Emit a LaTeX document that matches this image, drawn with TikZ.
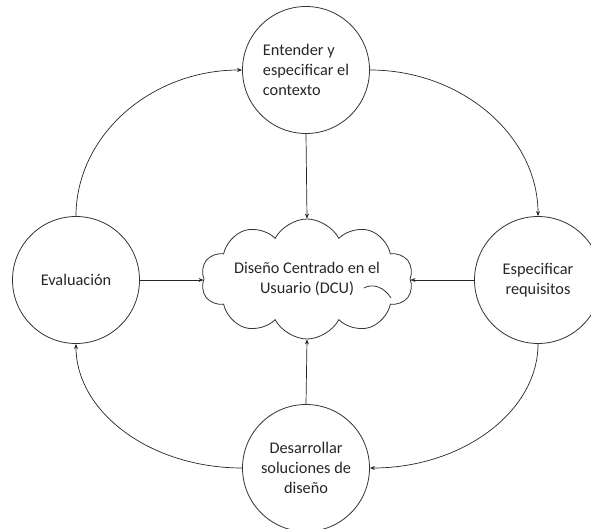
\documentclass[tikz,border=0pt]{standalone}
\usepackage{fontspec}
\setmainfont{Carlito}
\usetikzlibrary{shapes.symbols,arrows.meta}
\begin{document}
\begin{tikzpicture}[x=1pt,y=-1pt,
  every node/.style={font=\fontsize{16.3}{20}\selectfont, text=black!85},
  stage/.style={circle, draw=black!80, line width=0.8pt, minimum size=127pt,
    inner sep=0pt, align=center, fill=white},
  core/.style={cloud, draw=black!80, line width=0.8pt, cloud puffs=10,
    cloud puff arc=125, cloud ignores aspect, minimum width=212pt,
    minimum height=120pt, inner sep=0pt, align=center},
  link/.style={draw=black!85, line width=0.7pt,
    -{Stealth[length=5pt,width=4pt]}}]
\useasboundingbox (0,0) rectangle (591,529);
\clip (0,0) rectangle (591,529);

\node[core]  (dcu)    at (307,279) {Diseño Centrado en el\\Usuario (DCU)};
% inner fold line of the cloud
\draw[draw=black!80, line width=0.8pt] (364,288) .. controls (373,283) and (384,287) .. (391,298);

\node[stage, align=left] (ctx) at (306,70) {Entender y\\especificar el\\contexto};
\node[stage] (req)    at (538,280) {Especificar\\requisitos};
\node[stage] (sol)    at (306,468) {Desarrollar\\soluciones de\\diseño};
\node[stage] (eval)   at (76,280)  {Evaluación};

% spokes into the cloud
\draw[link] (ctx.south) -- (dcu.north);
\draw[link] (eval.east) -- (eval.east -| dcu.west);
\draw[link] (req.west)  -- (req.west -| dcu.east);
\draw[link] (sol.north) -- (dcu.south);

% outer cycle
\draw[link] (ctx.east)  .. controls +(92,0)  and +(0,-80) .. (req.north);
\draw[link] (req.south) .. controls +(0,68)  and +(92,0)  .. (sol.east);
\draw[link] (sol.west)  .. controls +(-92,0) and +(0,68)  .. (eval.south);
\draw[link] (eval.north) .. controls +(0,-80) and +(-92,0) .. (ctx.west);
\end{tikzpicture}
\end{document}
